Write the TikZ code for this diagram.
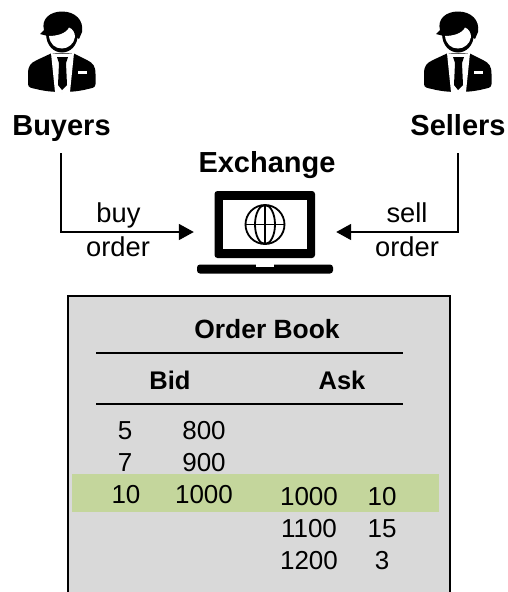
\documentclass[tikz,border=0pt]{standalone}
\usepackage{fontspec}
\setmainfont{Liberation Sans}
\usetikzlibrary{arrows.meta}
\definecolor{bookgray}{HTML}{D9D9D9}
\definecolor{bandgreen}{HTML}{C4D69C}
\tikzset{
  plain/.style={anchor=base,inner sep=0pt,font=\fontsize{26}{30}\selectfont},
  flowtext/.style={anchor=base,inner sep=0pt,font=\fontsize{27.3}{30}\selectfont},
  heading/.style={anchor=base,inner sep=0pt,font=\fontsize{29}{32}\selectfont\bfseries},
  subheading/.style={anchor=base,inner sep=0pt,font=\fontsize{25.5}{30}\selectfont\bfseries},
  orderline/.style={line width=1.8pt,-{Triangle[length=15pt,width=16pt]}},
  rule/.style={line width=1.3pt},
  person/.pic={
    % jacket
    \fill[black] (28,74) .. controls (28,65) and (31,63) .. (37,60) -- (52,53)
      -- (73,53) -- (87,60) .. controls (93,63) and (95.5,66) .. (95.5,74) -- (95.5,84)
      .. controls (95.5,88) and (92,88) .. (88,89) .. controls (80,91) and (72,92) .. (62,92)
      .. controls (52,92) and (44,91) .. (36,89) .. controls (32,88) and (28,88) .. (28,84) -- cycle;
    % shirt and tie
    \fill[white] (51,53) .. controls (56,54) and (68,54) .. (74,53) -- (70,92) -- (55,92) -- cycle;
    \fill[black] (57,57) -- (68,57) -- (66,63) -- (67,85) -- (62,90) -- (58,85) -- (59,63) -- cycle;
    \fill[white] (78,71) rectangle (87,73.5);
    % head
    \fill[black] (46,33) .. controls (46,46) and (54,52.5) .. (62,52.5)
      .. controls (70,52.5) and (78,46) .. (78,33) -- cycle;
    \fill[black] (40,34) -- (44,30) .. controls (41,19) and (50,11.5) .. (62,11.5)
      .. controls (75,11.5) and (84,20) .. (82,32) -- (79,39) -- (70,32) -- (48,36) -- cycle;
    \fill[white] (49,36) .. controls (56,36) and (66,34) .. (69,27.5)
      .. controls (73,29) and (75,33) .. (75,37)
      .. controls (74,44) and (68,48.5) .. (62,48.5)
      .. controls (55,48.5) and (50,44) .. (49,36) -- cycle;
  }
}
\begin{document}
\begin{tikzpicture}[x=1pt,y=-1pt]
  \useasboundingbox (0,0) rectangle (508,592);
  % order book panel
  \fill[bookgray] (68,296) rectangle (450,593);
  \fill[bandgreen] (72,474) rectangle (439,512);
  \draw[line width=2pt,line join=miter] (68,600) -- (68,296) -- (450,296) -- (450,600);
  % traders
  \pic at (0,0) {person};
  \pic at (396,0) {person};
  \node[heading] (buyers) at (61.5,135) {Buyers};
  \node[heading] (sellers) at (458,135) {Sellers};
  \node[heading] (exchange) at (267,172) {Exchange};
  % laptop
  \node[minimum width=142pt,minimum height=80pt,inner sep=0pt] (laptop) at (265,232) {};
  \fill[black,rounded corners=3pt] (214.5,258) -- (214.5,191) -- (315,191) -- (315,258) -- cycle;
  \fill[white] (223,199.5) rectangle (307,249);
  \fill[black,rounded corners=3pt] (197,264.5) -- (197,273.5) -- (333,273.5) -- (333,264.5) -- cycle;
  \fill[white] (256,264) -- (274,264) -- (274,266.5) -- (256,266.5) -- cycle;
  \begin{scope}[line width=1.8pt]
    \draw (265,224.5) circle (19.5);
    \draw (265,224.5) ellipse (10 and 19.5);
    \draw (265,205) -- (265,244);
    \draw (245.5,224.5) -- (284.5,224.5);
  \end{scope}
  % orders
  \coordinate (buyerstart) at (61,153);
  \coordinate (sellerstart) at (458,153);
  \draw[orderline] (buyerstart) |- (laptop.west);
  \draw[orderline] (sellerstart) |- (laptop.east);
  \node[flowtext] (buy) at (118.5,222.5) {buy};
  \node[flowtext] (buyorder) at (118,256.5) {order};
  \node[flowtext] (sell) at (407,222.5) {sell};
  \node[flowtext] (sellorder) at (407,256.5) {order};
  % table
  \node[subheading,font=\fontsize{26.4}{30}\selectfont\bfseries] (book) at (267,338) {Order Book};
  \node[subheading] (bid) at (170,389) {Bid};
  \node[subheading] (ask) at (342,389) {Ask};
  \coordinate (rulea) at (96,353);
  \coordinate (ruleb) at (403,353);
  \coordinate (rulec) at (96,404);
  \coordinate (ruled) at (403,404);
  \draw[rule] (rulea) -- (ruleb);
  \draw[rule] (rulec) -- (ruled);
  \node[plain] (bidqa) at (125,439) {5};
  \node[plain] (bidpa) at (204,439) {800};
  \node[plain] (bidqb) at (125,471) {7};
  \node[plain] (bidpb) at (204,471) {900};
  \node[plain] (bidqc) at (126,503) {10};
  \node[plain] (bidpc) at (204,503) {1000};
  \node[plain] (askpa) at (309,505) {1000};
  \node[plain] (askqa) at (382,505) {10};
  \node[plain] (askpb) at (309,537) {1100};
  \node[plain] (askqb) at (382,537) {15};
  \node[plain] (askpc) at (309,569) {1200};
  \node[plain] (askqc) at (382,569) {3};
\end{tikzpicture}
\end{document}
